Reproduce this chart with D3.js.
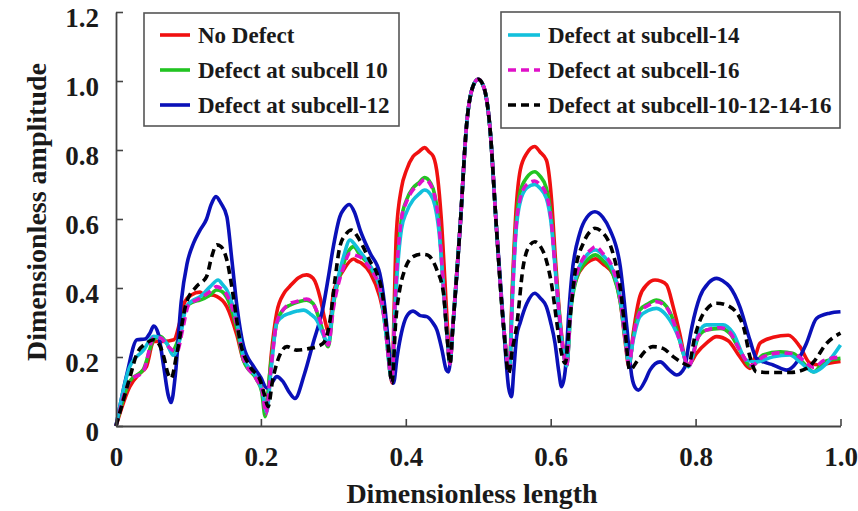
<!DOCTYPE html>
<html>
<head>
<meta charset="utf-8">
<script src="https://cdn.jsdelivr.net/npm/d3@7"></script>
<style>
  html, body { margin: 0; padding: 0; background: #fff; }
  svg { display: block; }
  text { font-family: "Liberation Serif", "Times New Roman", serif; font-weight: bold; fill: #1a1a1a; }
</style>
</head>
<body>
<svg id="chart" width="858" height="511"></svg>
<script>
// Axis ticks
const xTicks = [0, 0.2, 0.4, 0.6, 0.8, 1.0];
const xTickLabels = ["0", "0.2", "0.4", "0.6", "0.8", "1.0"];
const yTicks = [0, 0.2, 0.4, 0.6, 0.8, 1.0, 1.2];
const yTickLabels = ["0", "0.2", "0.4", "0.6", "0.8", "1.0", "1.2"];

// Series names (legend order)
const seriesNames = [
  "No Defect",
  "Defect at subcell 10",
  "Defect at subcell-12",
  "Defect at subcell-14",
  "Defect at subcell-16",
  "Defect at subcell-10-12-14-16"
];

// Amplitude profiles: [dimensionless length, dimensionless amplitude]
const noDefect = [
  [0,0],[0.019,0.114],[0.033,0.153],[0.042,0.172],[0.052,0.245],[0.065,0.245],[0.08,0.25],[0.088,0.3],
  [0.095,0.36],[0.104,0.38],[0.116,0.388],[0.124,0.375],[0.131,0.38],[0.139,0.376],[0.153,0.346],
  [0.167,0.262],[0.176,0.19],[0.19,0.155],[0.2,0.12],[0.208,0.05],[0.214,0.2],[0.222,0.33],[0.232,0.385],
  [0.24,0.405],[0.252,0.43],[0.263,0.438],[0.272,0.428],[0.282,0.37],[0.288,0.31],[0.294,0.27],
  [0.3,0.385],[0.314,0.452],[0.328,0.484],[0.333,0.478],[0.339,0.472],[0.351,0.443],[0.364,0.375],
  [0.374,0.27],[0.381,0.125],[0.384,0.35],[0.387,0.56],[0.394,0.69],[0.401,0.742],[0.41,0.781],
  [0.418,0.795],[0.426,0.807],[0.432,0.795],[0.438,0.781],[0.444,0.72],[0.449,0.6],[0.454,0.42],
  [0.458,0.27],[0.461,0.185],[0.465,0.29],[0.475,0.578],[0.484,0.875],[0.492,0.98],[0.5,1.005],
  [0.508,0.98],[0.516,0.868],[0.525,0.578],[0.535,0.288],[0.543,0.17],[0.547,0.4],[0.552,0.62],
  [0.558,0.742],[0.567,0.79],[0.578,0.81],[0.585,0.795],[0.594,0.771],[0.601,0.66],[0.606,0.5],
  [0.612,0.33],[0.617,0.23],[0.622,0.18],[0.628,0.36],[0.636,0.43],[0.646,0.465],[0.655,0.48],
  [0.662,0.485],[0.672,0.47],[0.686,0.44],[0.696,0.36],[0.703,0.24],[0.708,0.172],[0.714,0.27],
  [0.723,0.375],[0.733,0.41],[0.744,0.423],[0.752,0.42],[0.76,0.409],[0.769,0.346],[0.778,0.269],
  [0.785,0.2],[0.79,0.177],[0.801,0.21],[0.815,0.24],[0.829,0.259],[0.845,0.247],[0.861,0.201],
  [0.875,0.167],[0.882,0.2],[0.889,0.24],[0.907,0.257],[0.928,0.263],[0.944,0.23],[0.958,0.182],
  [0.972,0.177],[0.986,0.183],[1.0,0.187]
];

const defect10 = [
  [0,0],[0.019,0.13],[0.038,0.165],[0.052,0.25],[0.061,0.26],[0.07,0.24],[0.077,0.215],[0.084,0.24],
  [0.097,0.346],[0.107,0.36],[0.116,0.365],[0.13,0.38],[0.139,0.394],[0.146,0.39],[0.153,0.372],
  [0.167,0.28],[0.176,0.19],[0.194,0.135],[0.201,0.1],[0.206,0.027],[0.212,0.15],[0.222,0.3],
  [0.232,0.34],[0.24,0.35],[0.252,0.36],[0.263,0.365],[0.272,0.355],[0.282,0.3],[0.293,0.23],
  [0.3,0.35],[0.314,0.47],[0.322,0.51],[0.328,0.52],[0.337,0.495],[0.346,0.475],[0.356,0.44],
  [0.364,0.4],[0.372,0.28],[0.381,0.13],[0.385,0.35],[0.394,0.6],[0.401,0.655],[0.41,0.69],
  [0.418,0.705],[0.426,0.72],[0.434,0.705],[0.44,0.67],[0.446,0.58],[0.452,0.4],[0.457,0.26],
  [0.461,0.18],[0.465,0.29],[0.475,0.578],[0.484,0.875],[0.492,0.98],[0.5,1.005],[0.508,0.98],
  [0.516,0.868],[0.525,0.578],[0.535,0.288],[0.543,0.16],[0.547,0.38],[0.552,0.58],[0.558,0.68],
  [0.567,0.72],[0.578,0.737],[0.585,0.725],[0.594,0.69],[0.601,0.6],[0.606,0.47],[0.612,0.32],
  [0.617,0.22],[0.622,0.175],[0.628,0.34],[0.636,0.43],[0.646,0.47],[0.655,0.49],[0.662,0.496],
  [0.672,0.48],[0.686,0.44],[0.696,0.36],[0.703,0.25],[0.708,0.18],[0.714,0.26],[0.723,0.336],
  [0.735,0.355],[0.746,0.365],[0.76,0.346],[0.774,0.278],[0.783,0.21],[0.79,0.172],[0.804,0.259],
  [0.815,0.278],[0.834,0.283],[0.847,0.269],[0.861,0.22],[0.877,0.172],[0.893,0.206],[0.917,0.215],
  [0.935,0.21],[0.949,0.182],[0.963,0.157],[0.977,0.186],[1.0,0.196]
];

const defect12 = [
  [0,0],[0.015,0.15],[0.029,0.25],[0.04,0.252],[0.047,0.27],[0.052,0.29],[0.058,0.27],[0.066,0.17],
  [0.072,0.09],[0.076,0.068],[0.082,0.15],[0.09,0.36],[0.098,0.47],[0.107,0.53],[0.116,0.568],
  [0.125,0.6],[0.131,0.64],[0.138,0.665],[0.145,0.645],[0.153,0.607],[0.16,0.48],[0.167,0.346],
  [0.176,0.232],[0.19,0.172],[0.2,0.14],[0.208,0.11],[0.215,0.125],[0.222,0.143],[0.23,0.13],
  [0.24,0.095],[0.247,0.08],[0.26,0.15],[0.272,0.24],[0.286,0.346],[0.293,0.43],[0.3,0.52],
  [0.309,0.607],[0.315,0.63],[0.322,0.642],[0.329,0.62],[0.337,0.568],[0.351,0.5],[0.364,0.443],
  [0.371,0.346],[0.376,0.24],[0.38,0.16],[0.383,0.124],[0.388,0.2],[0.394,0.27],[0.401,0.317],
  [0.41,0.333],[0.42,0.32],[0.429,0.317],[0.437,0.3],[0.443,0.278],[0.45,0.22],[0.456,0.162],
  [0.459,0.157],[0.465,0.29],[0.475,0.578],[0.484,0.875],[0.492,0.98],[0.5,1.005],[0.508,0.98],
  [0.516,0.868],[0.525,0.578],[0.535,0.288],[0.542,0.11],[0.546,0.085],[0.549,0.16],[0.553,0.26],
  [0.558,0.3],[0.567,0.355],[0.578,0.385],[0.586,0.37],[0.594,0.346],[0.6,0.3],[0.606,0.24],
  [0.611,0.16],[0.615,0.114],[0.62,0.16],[0.625,0.33],[0.629,0.433],[0.64,0.558],[0.65,0.605],
  [0.661,0.621],[0.672,0.605],[0.682,0.568],[0.696,0.462],[0.705,0.288],[0.712,0.143],[0.717,0.11],
  [0.721,0.104],[0.73,0.13],[0.737,0.162],[0.751,0.186],[0.764,0.162],[0.774,0.148],[0.785,0.17],
  [0.79,0.23],[0.795,0.288],[0.806,0.375],[0.818,0.415],[0.829,0.428],[0.838,0.42],[0.847,0.404],
  [0.861,0.346],[0.875,0.249],[0.884,0.196],[0.895,0.185],[0.907,0.177],[0.926,0.162],[0.94,0.186],
  [0.953,0.24],[0.967,0.312],[0.985,0.327],[1.0,0.331]
];

const defect14 = [
  [0,0],[0.019,0.172],[0.038,0.22],[0.052,0.26],[0.062,0.255],[0.07,0.24],[0.079,0.205],[0.088,0.25],
  [0.097,0.346],[0.107,0.365],[0.116,0.375],[0.13,0.404],[0.141,0.423],[0.147,0.41],[0.153,0.394],
  [0.167,0.3],[0.176,0.2],[0.194,0.14],[0.202,0.1],[0.208,0.04],[0.214,0.16],[0.222,0.3],[0.232,0.32],
  [0.24,0.327],[0.25,0.333],[0.259,0.336],[0.268,0.325],[0.277,0.307],[0.286,0.265],[0.293,0.24],
  [0.3,0.36],[0.314,0.49],[0.323,0.539],[0.33,0.525],[0.337,0.505],[0.346,0.48],[0.356,0.445],
  [0.364,0.4],[0.372,0.28],[0.381,0.13],[0.385,0.33],[0.394,0.57],[0.401,0.62],[0.41,0.655],
  [0.418,0.672],[0.426,0.684],[0.434,0.672],[0.44,0.64],[0.446,0.56],[0.452,0.4],[0.457,0.26],
  [0.461,0.18],[0.465,0.29],[0.475,0.578],[0.484,0.875],[0.492,0.98],[0.5,1.005],[0.508,0.98],
  [0.516,0.868],[0.525,0.578],[0.535,0.288],[0.543,0.165],[0.547,0.36],[0.552,0.56],[0.558,0.65],
  [0.567,0.69],[0.578,0.7],[0.585,0.69],[0.594,0.66],[0.601,0.58],[0.606,0.46],[0.612,0.31],
  [0.617,0.22],[0.622,0.175],[0.628,0.35],[0.636,0.44],[0.646,0.485],[0.655,0.505],[0.662,0.51],
  [0.672,0.495],[0.686,0.45],[0.696,0.37],[0.703,0.25],[0.708,0.18],[0.714,0.25],[0.723,0.317],
  [0.735,0.335],[0.746,0.341],[0.76,0.32],[0.778,0.249],[0.79,0.172],[0.804,0.269],[0.815,0.293],
  [0.838,0.293],[0.852,0.269],[0.87,0.191],[0.884,0.186],[0.907,0.201],[0.93,0.206],[0.944,0.186],
  [0.963,0.157],[0.981,0.182],[1.0,0.235]
];

const defect16 = [
  [0,0],[0.019,0.13],[0.038,0.16],[0.052,0.255],[0.062,0.255],[0.07,0.235],[0.084,0.215],[0.092,0.28],
  [0.1,0.35],[0.116,0.37],[0.13,0.39],[0.139,0.404],[0.147,0.395],[0.153,0.38],[0.167,0.29],
  [0.176,0.195],[0.194,0.135],[0.202,0.1],[0.207,0.035],[0.213,0.15],[0.222,0.3],[0.232,0.34],
  [0.24,0.355],[0.252,0.362],[0.263,0.368],[0.272,0.355],[0.282,0.305],[0.293,0.235],[0.3,0.34],
  [0.314,0.46],[0.323,0.5],[0.33,0.495],[0.337,0.49],[0.346,0.47],[0.356,0.44],[0.364,0.4],
  [0.372,0.28],[0.381,0.13],[0.385,0.35],[0.394,0.6],[0.401,0.65],[0.41,0.685],[0.418,0.7],
  [0.426,0.715],[0.434,0.7],[0.44,0.665],[0.446,0.58],[0.452,0.4],[0.457,0.26],[0.461,0.18],
  [0.465,0.29],[0.475,0.578],[0.484,0.875],[0.492,0.98],[0.5,1.005],[0.508,0.98],[0.516,0.868],
  [0.525,0.578],[0.535,0.288],[0.543,0.16],[0.547,0.37],[0.552,0.57],[0.558,0.66],[0.567,0.7],
  [0.578,0.71],[0.585,0.7],[0.594,0.67],[0.601,0.59],[0.606,0.46],[0.612,0.32],[0.617,0.22],
  [0.622,0.175],[0.628,0.35],[0.636,0.44],[0.646,0.49],[0.655,0.51],[0.662,0.52],[0.672,0.5],
  [0.686,0.455],[0.696,0.37],[0.703,0.25],[0.708,0.178],[0.714,0.26],[0.723,0.33],[0.735,0.35],
  [0.746,0.36],[0.76,0.343],[0.774,0.275],[0.783,0.21],[0.79,0.172],[0.804,0.26],[0.815,0.278],
  [0.834,0.285],[0.847,0.272],[0.861,0.22],[0.877,0.175],[0.893,0.2],[0.917,0.212],[0.935,0.21],
  [0.949,0.19],[0.963,0.17],[0.977,0.19],[1.0,0.2]
];

const defectAll = [
  [0,0],[0.019,0.14],[0.029,0.21],[0.042,0.24],[0.052,0.25],[0.06,0.235],[0.066,0.2],[0.072,0.15],
  [0.076,0.138],[0.084,0.21],[0.097,0.356],[0.111,0.404],[0.125,0.433],[0.132,0.49],[0.139,0.525],
  [0.145,0.52],[0.153,0.481],[0.162,0.375],[0.171,0.249],[0.185,0.172],[0.199,0.133],[0.205,0.09],
  [0.21,0.056],[0.216,0.13],[0.222,0.182],[0.236,0.23],[0.249,0.22],[0.268,0.225],[0.28,0.232],
  [0.288,0.245],[0.295,0.3],[0.302,0.42],[0.309,0.52],[0.317,0.555],[0.325,0.568],[0.333,0.55],
  [0.341,0.52],[0.35,0.48],[0.36,0.443],[0.368,0.38],[0.374,0.27],[0.381,0.124],[0.386,0.3],
  [0.392,0.4],[0.397,0.443],[0.41,0.491],[0.422,0.498],[0.43,0.496],[0.437,0.48],[0.443,0.452],
  [0.452,0.385],[0.457,0.26],[0.461,0.18],[0.465,0.29],[0.475,0.578],[0.484,0.875],[0.492,0.98],
  [0.5,1.005],[0.508,0.98],[0.516,0.868],[0.525,0.578],[0.535,0.288],[0.542,0.153],[0.547,0.22],
  [0.553,0.29],[0.562,0.462],[0.57,0.52],[0.578,0.534],[0.586,0.52],[0.594,0.48],[0.602,0.4],
  [0.608,0.307],[0.614,0.22],[0.62,0.182],[0.626,0.3],[0.634,0.45],[0.645,0.53],[0.655,0.565],
  [0.661,0.573],[0.672,0.56],[0.686,0.5],[0.696,0.4],[0.703,0.27],[0.709,0.162],[0.72,0.19],
  [0.732,0.22],[0.741,0.23],[0.755,0.225],[0.769,0.201],[0.783,0.182],[0.79,0.175],[0.799,0.259],
  [0.811,0.327],[0.829,0.356],[0.847,0.346],[0.866,0.288],[0.875,0.201],[0.884,0.157],[0.907,0.155],
  [0.93,0.155],[0.953,0.167],[0.963,0.186],[0.981,0.24],[1.0,0.269]
];

const seriesData = [noDefect, defect10, defect12, defect14, defect16, defectAll];
const seriesColors = ["#f01010", "#22c422", "#0a10b8", "#12c0dc", "#e010c8", "#000000"];
const seriesDash = [null, null, null, null, "8,5", "8,5"];

// ---- layout ----
const svg = d3.select("#chart");
const plot = { left: 116, right: 840.5, top: 12, bottom: 426 };

const x = d3.scaleLinear().domain([0, 1]).range([plot.left, plot.right]);
const y = d3.scaleLinear().domain([0, 1.2]).range([plot.bottom, plot.top]);

// Curves
const line = d3.line()
  .x(d => x(d[0]))
  .y(d => y(d[1]))
  .curve(d3.curveMonotoneX);

const curves = svg.append("g").attr("class", "curves");
seriesData.forEach((data, i) => {
  curves.append("path")
    .datum(data)
    .attr("d", line)
    .attr("fill", "none")
    .attr("stroke", seriesColors[i])
    .attr("stroke-width", 3.6)
    .attr("stroke-linejoin", "round")
    .attr("stroke-dasharray", seriesDash[i]);
});

// Axes (ticks point inward)
const xAxis = d3.axisBottom(x)
  .tickValues(xTicks)
  .tickFormat((d, i) => xTickLabels[i])
  .tickSizeInner(-7)
  .tickSizeOuter(0)
  .tickPadding(21);

const yAxis = d3.axisLeft(y)
  .tickValues(yTicks)
  .tickFormat((d, i) => yTickLabels[i])
  .tickSizeInner(-7)
  .tickSizeOuter(0)
  .tickPadding(17);

const gx = svg.append("g")
  .attr("transform", `translate(0,${plot.bottom})`)
  .call(xAxis);
const gy = svg.append("g")
  .attr("transform", `translate(${plot.left},0)`)
  .call(yAxis);

[gx, gy].forEach(g => {
  g.select(".domain").attr("stroke", "#444").attr("stroke-width", 1.8);
  g.selectAll(".tick line").attr("stroke", "#444").attr("stroke-width", 1.6);
  g.selectAll(".tick text")
    .attr("fill", "#1a1a1a")
    .style("font-family", "'Liberation Serif', 'Times New Roman', serif")
    .style("font-weight", "bold")
    .style("font-size", "27px");
});
gy.selectAll(".tick text").attr("dy", "0.55em");

// Axis titles
svg.append("text")
  .attr("x", 472)
  .attr("y", 503)
  .attr("text-anchor", "middle")
  .style("font-size", "28px")
  .text("Dimensionless length");

svg.append("text")
  .attr("transform", "translate(46,212) rotate(-90)")
  .attr("text-anchor", "middle")
  .style("font-size", "28px")
  .text("Dimensionless amplitude");

// Legends: two boxed columns of three entries
const legendBoxes = [
  { x0: 144, x1: 399, y0: 13, y1: 126, lineX0: 160, lineX1: 190, textX: 198, items: [0, 1, 2] },
  { x0: 501, x1: 840, y0: 12, y1: 128, lineX0: 508, lineX1: 540, textX: 548, items: [3, 4, 5] }
];
const rowY = [35, 70, 105];

legendBoxes.forEach(box => {
  const g = svg.append("g");
  g.append("rect")
    .attr("x", box.x0).attr("y", box.y0)
    .attr("width", box.x1 - box.x0).attr("height", box.y1 - box.y0)
    .attr("fill", "#fff")
    .attr("stroke", "#555")
    .attr("stroke-width", 1.6);
  box.items.forEach((si, r) => {
    g.append("line")
      .attr("x1", box.lineX0).attr("x2", box.lineX1)
      .attr("y1", rowY[r]).attr("y2", rowY[r])
      .attr("stroke", seriesColors[si])
      .attr("stroke-width", 3.6)
      .attr("stroke-dasharray", seriesDash[si]);
    g.append("text")
      .attr("x", box.textX)
      .attr("y", rowY[r] + 8)
      .style("font-size", "23px")
      .text(seriesNames[si]);
  });
});
</script>
</body>
</html>
